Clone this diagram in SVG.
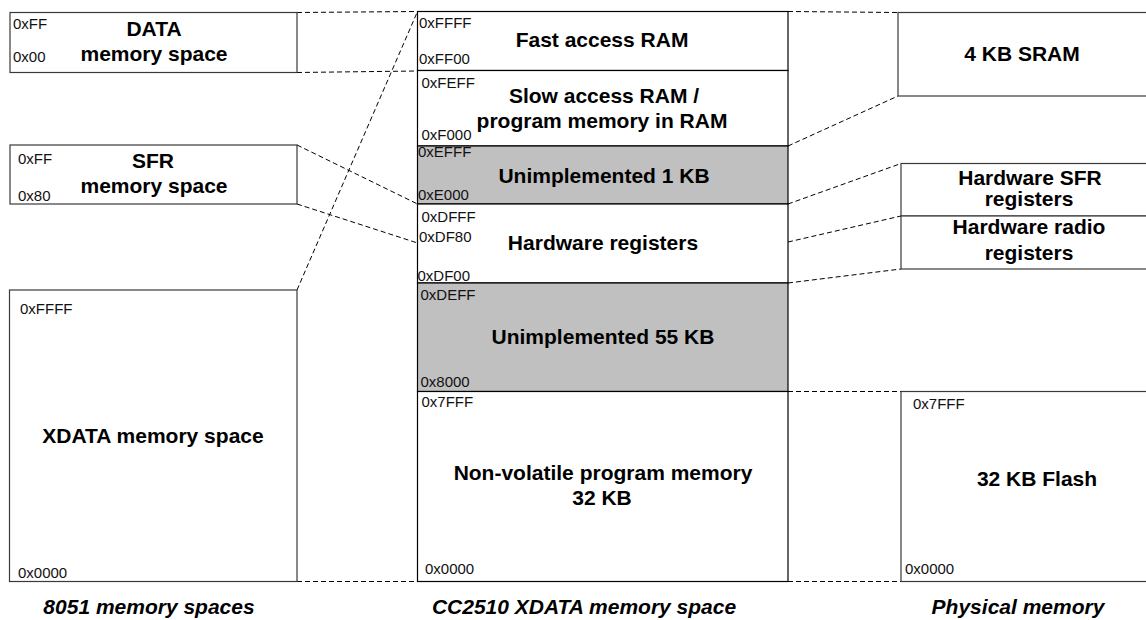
<svg xmlns="http://www.w3.org/2000/svg" width="1146" height="620" viewBox="0 0 1146 620">
<style>
  .box { fill: #ffffff; stroke: #3a3a3a; stroke-width: 1.2; }
  .mbox { fill: #ffffff; stroke: #000000; stroke-width: 1.2; }
  .gray { fill: #c0c0c0; }
  .conn { fill: none; stroke: #000000; stroke-width: 1; stroke-dasharray: 5 3; }
  .lbl { font-family: "Liberation Sans", Arial, sans-serif; font-weight: bold; font-size: 21px; fill: #000; text-anchor: middle; }
  .hex { font-family: "Liberation Sans", Arial, sans-serif; font-size: 15px; fill: #111; }
  .cap { font-family: "Liberation Sans", Arial, sans-serif; font-weight: bold; font-style: italic; font-size: 21px; fill: #000; text-anchor: middle; }
</style>
<rect width="1146" height="620" fill="#ffffff"/>

<g id="connectors">
  <line class="conn" x1="297" y1="12.5" x2="417.5" y2="11.5"/>
  <line class="conn" x1="297" y1="72.5" x2="417.5" y2="71"/>
  <line class="conn" x1="297" y1="290" x2="417.5" y2="11.5"/>
  <line class="conn" x1="297" y1="145" x2="417.5" y2="204"/>
  <line class="conn" x1="297" y1="204" x2="417.5" y2="243"/>
  <line class="conn" x1="265" y1="581.5" x2="417.5" y2="581.5"/>
  <line class="conn" x1="788" y1="11.5" x2="898" y2="12.5"/>
  <line class="conn" x1="788" y1="146" x2="898" y2="96"/>
  <line class="conn" x1="788" y1="204" x2="901" y2="163.5"/>
  <line class="conn" x1="788" y1="242" x2="901" y2="216"/>
  <line class="conn" x1="788" y1="283" x2="901" y2="269"/>
  <line class="conn" x1="788" y1="391.5" x2="901" y2="391.5"/>
  <line class="conn" x1="788" y1="581.5" x2="901" y2="581.5"/>
</g>

<g id="data-space">
  <rect class="box" x="10" y="12.5" width="287" height="60"/>
  <text class="hex" x="13" y="29">0xFF</text>
  <text class="hex" x="13" y="62">0x00</text>
  <text class="lbl" x="154" y="36">DATA</text>
  <text class="lbl" x="154" y="60.5">memory space</text>
</g>

<g id="sfr-space">
  <rect class="box" x="10" y="145" width="287" height="59"/>
  <text class="hex" x="18" y="164">0xFF</text>
  <text class="hex" x="18" y="201">0x80</text>
  <text class="lbl" x="153" y="168">SFR</text>
  <text class="lbl" x="154" y="193">memory space</text>
</g>

<g id="xdata-space">
  <rect class="box" x="9.5" y="290" width="287.5" height="291.5"/>
  <text class="hex" x="20" y="314">0xFFFF</text>
  <text class="lbl" x="153" y="443">XDATA memory space</text>
  <text class="hex" x="18" y="578">0x0000</text>
</g>

<g id="fast-ram">
  <rect class="mbox" x="417.5" y="11.5" width="370.5" height="59"/>
  <text class="hex" x="419" y="28">0xFFFF</text>
  <text class="hex" x="419" y="63.5">0xFF00</text>
  <text class="lbl" x="602" y="46.5">Fast access RAM</text>
</g>

<g id="slow-ram">
  <rect class="mbox" x="417.5" y="70.5" width="370.5" height="75.5"/>
  <text class="hex" x="421.5" y="88">0xFEFF</text>
  <text class="hex" x="421.5" y="140">0xF000</text>
  <text class="lbl" x="604" y="103">Slow access RAM /</text>
  <text class="lbl" x="602" y="128">program memory in RAM</text>
</g>

<g id="unimpl-1kb">
  <rect class="mbox gray" x="417.5" y="146" width="370.5" height="58"/>
  <text class="hex" x="418" y="156.5">0xEFFF</text>
  <text class="hex" x="418" y="199.5">0xE000</text>
  <text class="lbl" x="604" y="182.5">Unimplemented 1 KB</text>
</g>

<g id="hw-registers">
  <rect class="mbox" x="417.5" y="204" width="370.5" height="79"/>
  <text class="hex" x="421.5" y="221.5">0xDFFF</text>
  <text class="hex" x="419" y="241.5">0xDF80</text>
  <text class="hex" x="417.5" y="281">0xDF00</text>
  <text class="lbl" x="603" y="250">Hardware registers</text>
</g>

<g id="unimpl-55kb">
  <rect class="mbox gray" x="417.5" y="283" width="370.5" height="108.5"/>
  <text class="hex" x="420.5" y="300">0xDEFF</text>
  <text class="hex" x="420.5" y="386.5">0x8000</text>
  <text class="lbl" x="603" y="344">Unimplemented 55 KB</text>
</g>

<g id="nonvolatile">
  <rect class="mbox" x="417.5" y="391.5" width="370.5" height="190"/>
  <text class="hex" x="421.5" y="406.5">0x7FFF</text>
  <text class="lbl" x="603" y="480">Non-volatile program memory</text>
  <text class="lbl" x="602" y="505">32 KB</text>
  <text class="hex" x="425" y="574">0x0000</text>
</g>

<g id="sram">
  <rect class="box" x="898" y="12.5" width="260" height="83.5"/>
  <text class="lbl" x="1022" y="61">4 KB SRAM</text>
</g>

<g id="hw-sfr">
  <rect class="box" x="901" y="163.5" width="260" height="52.5"/>
  <text class="lbl" x="1030" y="184.5">Hardware SFR</text>
  <text class="lbl" x="1029" y="206">registers</text>
</g>

<g id="hw-radio">
  <rect class="box" x="901" y="216" width="260" height="53"/>
  <text class="lbl" x="1029" y="233.5">Hardware radio</text>
  <text class="lbl" x="1029" y="260">registers</text>
</g>

<g id="flash">
  <rect class="box" x="901" y="391.5" width="260" height="190"/>
  <text class="hex" x="913" y="409">0x7FFF</text>
  <text class="lbl" x="1037" y="485.5">32 KB Flash</text>
  <text class="hex" x="905" y="574">0x0000</text>
</g>

<g id="captions">
  <text class="cap" x="149" y="614">8051 memory spaces</text>
  <text class="cap" x="584" y="614">CC2510 XDATA memory space</text>
  <text class="cap" x="1018" y="614">Physical memory</text>
</g>
</svg>
